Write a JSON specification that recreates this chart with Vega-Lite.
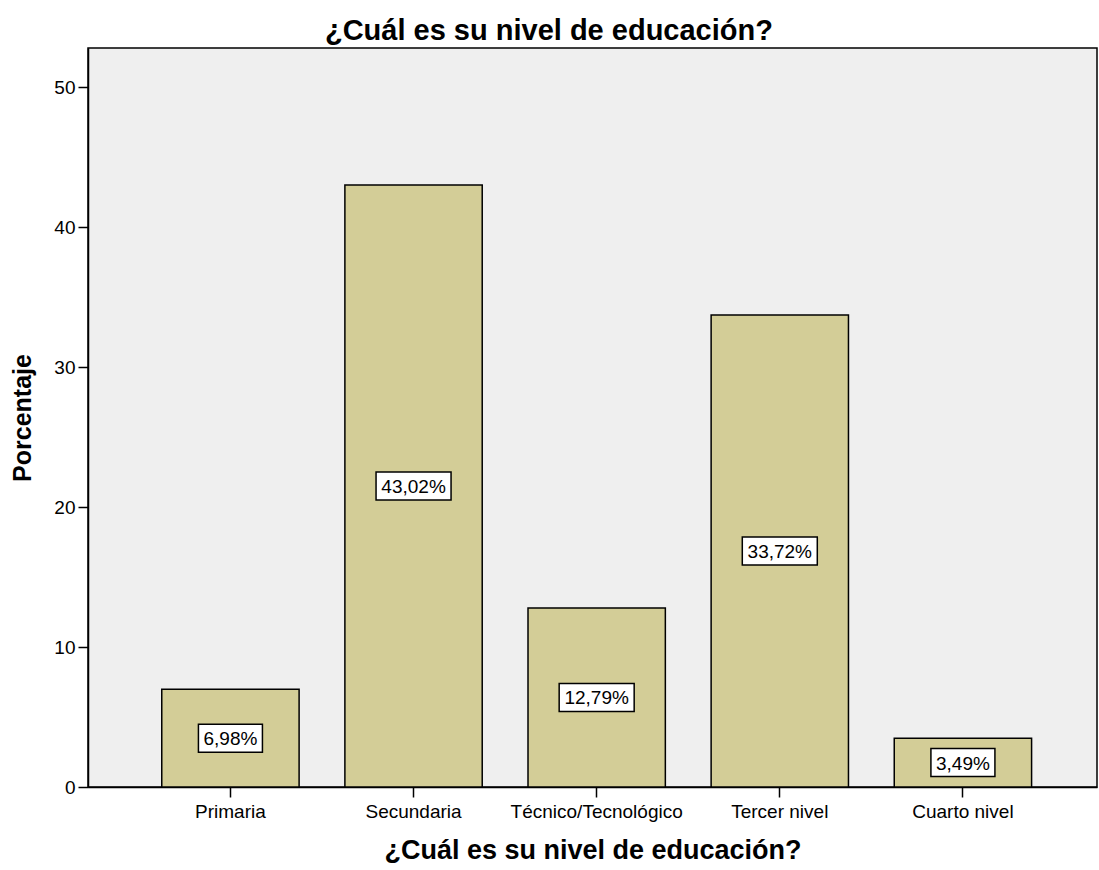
{
  "$schema": "https://vega.github.io/schema/vega-lite/v6.json",
  "autosize": {"type": "none"},
  "width": 1009,
  "height": 739,
  "padding": {"left": 88, "top": 48, "right": 2, "bottom": 83},
  "background": "white",
  "title": {
    "text": "¿Cuál es su nivel de educación?",
    "font": "Liberation Sans",
    "fontSize": 29,
    "fontWeight": "bold",
    "color": "#000000",
    "anchor": "middle",
    "frame": "bounds",
    "dx": -5,
    "offset": 2
  },
  "config": {
    "view": {"fill": "#EFEFEF", "stroke": "#000000", "strokeWidth": 1.5},
    "font": "Liberation Sans"
  },
  "data": {
    "values": [
      {"nivel": "Primaria", "pct": 6.98},
      {"nivel": "Secundaria", "pct": 43.02},
      {"nivel": "Técnico/Tecnológico", "pct": 12.79},
      {"nivel": "Tercer nivel", "pct": 33.72},
      {"nivel": "Cuarto nivel", "pct": 3.49}
    ]
  },
  "transform": [
    {"calculate": "datum.pct / 2", "as": "mid"},
    {"calculate": "datum.pct / 2 - 1", "as": "lo"},
    {"calculate": "datum.pct / 2 + 1", "as": "hi"},
    {"calculate": "replace(format(datum.pct, '.2f'), '.', ',') + '%'", "as": "label"}
  ],
  "encoding": {
    "x": {
      "field": "nivel",
      "type": "nominal",
      "sort": null,
      "scale": {"paddingInner": 0.25, "paddingOuter": 0.38, "align": 0.53},
      "axis": {
        "title": "¿Cuál es su nivel de educación?",
        "titleFont": "Liberation Sans",
        "titleFontSize": 27,
        "titleFontWeight": "bold",
        "titleColor": "#000000",
        "titlePadding": 16,
        "labelFont": "Liberation Sans",
        "labelFontSize": 19,
        "labelColor": "#000000",
        "labelAngle": 0,
        "labelPadding": 5,
        "tickSize": 10,
        "tickColor": "#000000",
        "tickWidth": 1.5,
        "domainColor": "#000000",
        "domainWidth": 1.5
      }
    }
  },
  "layer": [
    {
      "mark": {"type": "bar", "fill": "#D3CD97", "stroke": "#000000", "strokeWidth": 1.5},
      "encoding": {
        "y": {
          "field": "pct",
          "type": "quantitative",
          "scale": {"domain": [0, 52.8], "nice": false},
          "axis": {
            "title": "Porcentaje",
            "titleFont": "Liberation Sans",
            "titleFontSize": 25,
            "titleFontWeight": "bold",
            "titleColor": "#000000",
            "titlePadding": 18,
            "values": [0, 10, 20, 30, 40, 50],
            "grid": false,
            "labelFont": "Liberation Sans",
            "labelFontSize": 19,
            "labelColor": "#000000",
            "labelPadding": 3,
            "tickSize": 10,
            "tickColor": "#000000",
            "tickWidth": 1.5,
            "domainColor": "#000000",
            "domainWidth": 1.5
          }
        }
      }
    },
    {
      "transform": [{"filter": "datum.pct < 10"}],
      "mark": {"type": "bar", "width": 64, "fill": "#FFFFFF", "stroke": "#000000", "strokeWidth": 1.5},
      "encoding": {
        "y": {"field": "lo", "type": "quantitative"},
        "y2": {"field": "hi"}
      }
    },
    {
      "transform": [{"filter": "datum.pct >= 10"}],
      "mark": {"type": "bar", "width": 75, "fill": "#FFFFFF", "stroke": "#000000", "strokeWidth": 1.5},
      "encoding": {
        "y": {"field": "lo", "type": "quantitative"},
        "y2": {"field": "hi"}
      }
    },
    {
      "mark": {"type": "text", "font": "Liberation Sans", "fontSize": 19, "color": "#000000", "baseline": "middle", "dy": 1},
      "encoding": {
        "y": {"field": "mid", "type": "quantitative"},
        "text": {"field": "label"}
      }
    }
  ]
}
